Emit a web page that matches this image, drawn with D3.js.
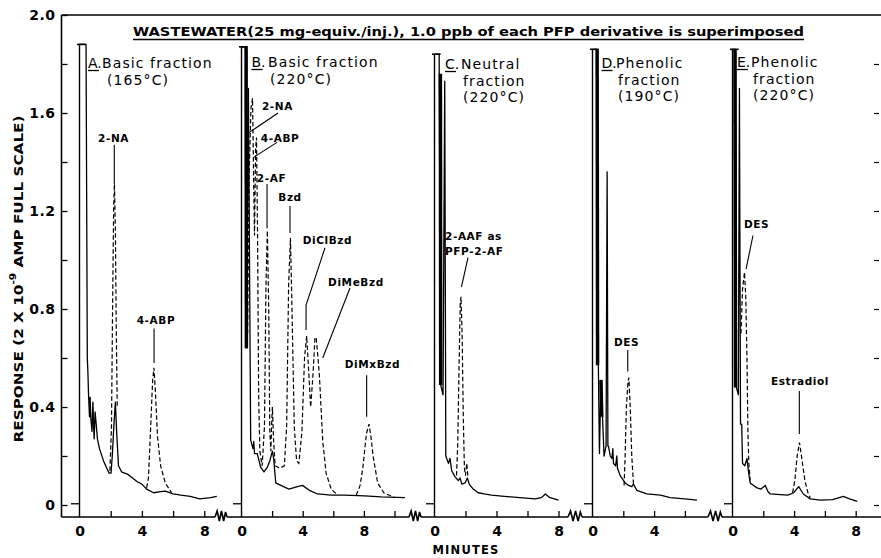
<!DOCTYPE html>
<html>
<head>
<meta charset="utf-8">
<script src="https://cdn.jsdelivr.net/npm/d3@7"></script>
<style>
  body { margin: 0; background: #fff; }
  svg { display: block; }
  text { font-family: "DejaVu Sans", sans-serif; fill: #000; }
</style>
</head>
<body>
<svg id="chart" width="881" height="558"></svg>
<script>
/* ---- data (response in 2e-9 A full scale units, time in minutes) ---- */
const yMajor = [0, 0.4, 0.8, 1.2, 1.6, 2.0];
const yAllTicks = [0, 0.2, 0.4, 0.6, 0.8, 1.0, 1.2, 1.4, 1.6, 1.8, 2.0];
const yRightTicks = [0, 0.2, 0.4, 0.6, 0.8, 1.0, 1.2, 1.4, 1.6, 1.8];

const panelLetters = ["A.", "B.", "C.", "D.", "E."];
const panelNames = [["Basic fraction"], ["Basic fraction"], ["Neutral", "fraction"], ["Phenolic", "fraction"], ["Phenolic", "fraction"]];
const panelTemps = ["(165°C)", "(220°C)", "(220°C)", "(190°C)", "(220°C)"];
const xTickMinutes = [[2, 4, 6, 8], [2, 4, 6, 8, 10], [2, 4, 6, 8], [2, 4, 6], [2, 4, 6, 8]];
const xTickLabels = [[0, 4, 8], [0, 4, 8], [0, 4, 8], [0, 4], [0, 4, 8]];
const solventTop = [1.88, 1.87, 1.84, 1.86, 1.86];

// wastewater extract (solid traces)
const sampleA = [[0,1.88],[0.42,1.88],[0.5,0.6],[0.54,0.54],[0.58,0.45],[0.64,0.36],[0.68,0.44],[0.73,0.35],[0.8,0.3],[0.86,0.42],[0.9,0.33],[0.94,0.27],[1.0,0.38],[1.07,0.33],[1.15,0.27],[1.28,0.23],[1.54,0.18],[1.75,0.15],[1.9,0.13],[2.02,0.13],[2.1,0.2],[2.2,0.32],[2.3,0.42],[2.38,0.3],[2.5,0.16],[2.7,0.135],[3.1,0.125],[3.4,0.11],[3.7,0.095],[4.0,0.085],[4.3,0.065],[4.75,0.05],[5.2,0.055],[5.5,0.057],[6.0,0.045],[6.5,0.04],[7.1,0.035],[7.7,0.025],[8.4,0.03],[8.8,0.035]];
const sampleB = [[0,1.87],[0.3,1.87],[0.33,0.64],[0.45,1.7],[0.6,0.265],[0.75,0.23],[0.8,0.26],[0.85,0.21],[1.03,0.21],[1.25,0.155],[1.47,0.135],[1.69,0.155],[1.85,0.18],[2.02,0.22],[2.1,0.19],[2.17,0.14],[2.24,0.09],[2.57,0.08],[3.1,0.065],[3.66,0.075],[3.99,0.08],[4.43,0.06],[4.98,0.045],[5.86,0.04],[6.73,0.04],[8.05,0.037],[9.14,0.033],[10.68,0.03]];
const sampleC = [[0,1.84],[0.3,1.84],[0.4,0.49],[0.55,0.45],[0.66,1.73],[0.73,0.2],[0.9,0.17],[1.0,0.19],[1.11,0.14],[1.33,0.115],[1.54,0.1],[1.65,0.11],[1.76,0.085],[1.97,0.09],[2.12,0.11],[2.24,0.085],[2.5,0.065],[2.82,0.05],[3.2,0.045],[3.68,0.04],[4.5,0.035],[5.5,0.03],[6.5,0.025],[6.9,0.03],[7.15,0.045],[7.45,0.03],[8.0,0.02]];
const sampleD = [[0,1.86],[0.3,1.86],[0.38,0.57],[0.45,0.21],[0.55,0.51],[0.65,0.36],[0.75,0.2],[0.88,0.24],[0.95,1.36],[1.0,0.24],[1.04,0.24],[1.15,0.2],[1.26,0.19],[1.32,0.23],[1.36,0.17],[1.5,0.16],[1.58,0.2],[1.62,0.15],[1.8,0.12],[2.12,0.09],[2.34,0.08],[2.55,0.075],[2.66,0.085],[2.88,0.06],[3.53,0.045],[4.4,0.04],[5.05,0.03],[6.0,0.025],[6.78,0.02]];
const sampleE = [[0,1.86],[0.2,1.86],[0.25,0.48],[0.38,0.45],[0.45,1.7],[0.52,0.33],[0.6,0.33],[0.65,0.17],[0.8,0.16],[0.94,0.19],[1.05,0.13],[1.15,0.09],[1.59,0.07],[1.85,0.065],[2.13,0.08],[2.3,0.055],[2.45,0.045],[3.1,0.042],[3.6,0.04],[3.97,0.05],[4.3,0.075],[4.6,0.045],[5.05,0.025],[5.7,0.02],[6.5,0.022],[7.2,0.035],[7.6,0.025],[8.1,0.015]];

// off-scale pen segments drawn heavy
const overloadB = [[[0.3,1.87],[0.32,0.64]]];
const overloadC = [[[0.38,1.76],[0.4,0.49]]];
const overloadD = [[[0.3,1.86],[0.33,0.57]], [[0.55,0.51],[0.6,0.36]]];
const overloadE = [[[0.16,1.86],[0.2,0.48]]];

// 1.0 ppb PFP derivative standards (dashed traces)
const standardA = [
  [[1.95,0.14],[2.05,0.32],[2.12,0.8],[2.19,1.22],[2.24,1.31],[2.3,1.12],[2.36,0.7],[2.42,0.4]],
  [[4.3,0.07],[4.42,0.11],[4.55,0.3],[4.68,0.5],[4.77,0.56],[4.86,0.47],[5.0,0.28],[5.2,0.16],[5.5,0.09],[5.9,0.05]]
];
const standardB = [
  [[0.4,0.7],[0.5,1.35],[0.62,1.62],[0.72,1.66],[0.8,1.3],[0.85,1.1],[0.92,1.45],[0.98,1.5],[1.05,1.1],[1.12,0.45],[1.2,0.22],[1.35,0.16],[1.5,0.32],[1.6,0.9],[1.69,1.12],[1.78,0.8],[1.85,0.3],[1.92,0.22],[1.97,0.33],[2.02,0.4],[2.1,0.26],[2.2,0.16],[2.5,0.15],[2.8,0.16],[2.95,0.32],[3.08,0.9],[3.2,1.09],[3.3,0.8],[3.45,0.32],[3.6,0.18],[3.75,0.17],[3.95,0.3],[4.12,0.6],[4.26,0.69],[4.38,0.56],[4.52,0.4],[4.66,0.52],[4.8,0.68],[4.88,0.685],[5.0,0.6],[5.1,0.52],[5.31,0.26],[5.53,0.13],[5.86,0.065],[6.3,0.04]],
  [[7.5,0.04],[7.75,0.08],[7.94,0.155],[8.16,0.29],[8.33,0.33],[8.46,0.28],[8.6,0.2],[8.9,0.09],[9.3,0.05],[10.0,0.03]]
];
const standardC = [
  [[1.42,0.12],[1.5,0.25],[1.58,0.55],[1.66,0.82],[1.71,0.85],[1.78,0.7],[1.86,0.35],[1.93,0.15],[2.0,0.12],[2.08,0.17],[2.15,0.12]]
];
const standardD = [
  [[2.05,0.08],[2.12,0.2],[2.2,0.4],[2.3,0.5],[2.36,0.52],[2.45,0.4],[2.55,0.2],[2.66,0.085]]
];
const standardE = [
  [[0.55,0.7],[0.65,0.88],[0.78,0.95],[0.86,0.85],[0.94,0.6],[1.0,0.3],[1.06,0.17],[1.15,0.1]],
  [[3.9,0.05],[4.05,0.1],[4.2,0.2],[4.35,0.255],[4.5,0.19],[4.7,0.1],[4.9,0.05],[5.05,0.03]]
];

// peak labels: panel, text lines, label centre (min, response), pointer polyline
const peakLabels = [
  { panel: 0, lines: ["2-NA"], at: [2.18, 1.50], ptr: [[2.23, 1.47], [2.23, 1.31]] },
  { panel: 0, lines: ["4-ABP"], at: [4.9, 0.755], ptr: [[4.78, 0.72], [4.78, 0.58]] },
  { panel: 1, lines: ["2-NA"], at: [2.35, 1.63], ptr: [[2.39, 1.60], [0.49, 1.52]] },
  { panel: 1, lines: ["4-ABP"], at: [2.52, 1.50], ptr: [[2.32, 1.48], [0.82, 1.42]] },
  { panel: 1, lines: ["2-AF"], at: [1.96, 1.335], ptr: [[1.67, 1.31], [1.67, 1.13]] },
  { panel: 1, lines: ["Bzd"], at: [3.17, 1.257], ptr: [[3.17, 1.22], [3.17, 1.11]] },
  { panel: 1, lines: ["DiClBzd"], at: [5.62, 1.08], ptr: [[5.46, 1.05], [4.22, 0.816], [4.22, 0.714]] },
  { panel: 1, lines: ["DiMeBzd"], at: [7.48, 0.91], ptr: [[7.09, 0.886], [5.31, 0.6]] },
  { panel: 1, lines: ["DiMxBzd"], at: [8.56, 0.575], ptr: [[8.18, 0.53], [8.18, 0.36]] },
  { panel: 2, lines: ["2-AAF as", "PFP-2-AF"], at: [2.0, 1.10], ptr: [[2.16, 1.01], [1.74, 0.89]] },
  { panel: 3, lines: ["DES"], at: [2.21, 0.665], ptr: [[2.29, 0.633], [2.29, 0.545]] },
  { panel: 4, lines: ["DES"], at: [1.56, 1.147], ptr: [[1.33, 1.10], [0.88, 0.963]] },
  { panel: 4, lines: ["Estradiol"], at: [4.38, 0.506], ptr: [[4.34, 0.465], [4.34, 0.29]] }
];

const samples = [sampleA, sampleB, sampleC, sampleD, sampleE];
const standards = [standardA, standardB, standardC, standardD, standardE];
const overloads = [[], overloadB, overloadC, overloadD, overloadE];

/* ---- layout ---- */
const plotTop = 15, axisY = 517, frameLeft = 61.5, frameRight = 881;
const panelX0 = [79.5, 241.5, 434.5, 592.5, 732.5];
const pxPerMin = [15.6, 15.3, 15.5, 15.4, 15.4];
const breaks = [[215, 227], [409, 421], [568, 582], [708, 722]];
const headerLetterX = [88, 251.5, 445, 601.5, 737];
const headerTextX = [102, 268, 461, 616, 751];
const headerY = [63, 62, 64, 63, 62];

const svg = d3.select("#chart");
const y = d3.scaleLinear().domain([0, 2]).range([505, plotTop]);
const xs = panelX0.map((x0, i) => d3.scaleLinear().domain([0, 10]).range([x0, x0 + 10 * pxPerMin[i]]));

// frame
svg.append("line").attr("x1", frameLeft).attr("x2", frameLeft).attr("y1", plotTop).attr("y2", axisY)
  .attr("stroke", "#000").attr("stroke-width", 1.6);
svg.append("line").attr("x1", frameLeft).attr("x2", frameRight).attr("y1", plotTop).attr("y2", plotTop)
  .attr("stroke", "#000").attr("stroke-width", 1.6);

// bottom axis with scale breaks
let segStart = frameLeft;
const bottom = svg.append("g");
breaks.forEach(b => {
  bottom.append("line").attr("x1", segStart).attr("x2", b[0]).attr("y1", axisY).attr("y2", axisY)
    .attr("stroke", "#000").attr("stroke-width", 1.6);
  const w = b[1] - b[0];
  const zz = [[b[0], axisY], [b[0] + w * 0.18, axisY - 6], [b[0] + w * 0.36, axisY + 4], [b[0] + w * 0.54, axisY - 6],
    [b[0] + w * 0.72, axisY + 4], [b[0] + w * 0.88, axisY - 5], [b[1], axisY]];
  bottom.append("path").attr("d", d3.line()(zz)).attr("fill", "none").attr("stroke", "#000").attr("stroke-width", 1.6);
  segStart = b[1];
});
bottom.append("line").attr("x1", segStart).attr("x2", frameRight).attr("y1", axisY).attr("y2", axisY)
  .attr("stroke", "#000").attr("stroke-width", 1.6);

// y axis ticks and labels
const yTickG = svg.append("g").attr("transform", `translate(${frameLeft},0)`)
  .call(d3.axisRight(y).tickValues(yAllTicks).tickSize(6).tickFormat(""));
yTickG.select(".domain").remove();
yTickG.selectAll("line").attr("stroke-width", 1.3);

const yLabG = svg.append("g").attr("transform", `translate(${frameLeft},0)`)
  .call(d3.axisLeft(y).tickValues(yMajor).tickSize(0).tickPadding(6)
    .tickFormat(d => d === 0 ? "0" : d3.format(".1f")(d)));
yLabG.select(".domain").remove();
yLabG.selectAll("text").attr("font-family", "DejaVu Sans, sans-serif").attr("font-size", 14)
  .attr("font-weight", "bold").attr("letter-spacing", 0.5).attr("fill", "#000");

const yRightG = svg.append("g").attr("transform", "translate(879,0)")
  .call(d3.axisLeft(y).tickValues(yRightTicks).tickSize(5).tickFormat(""));
yRightG.select(".domain").remove();
yRightG.selectAll("line").attr("stroke-width", 1.2);

// y axis title
const yTitle = svg.append("text")
  .attr("transform", "translate(18,279) rotate(-90)")
  .attr("text-anchor", "middle").attr("dominant-baseline", "central")
  .attr("font-size", 13).attr("font-weight", "bold")
  .attr("textLength", 327).attr("lengthAdjust", "spacingAndGlyphs");
yTitle.append("tspan").text("RESPONSE (2 X 10");
yTitle.append("tspan").attr("dy", -5).attr("font-size", 9).text("-9");
yTitle.append("tspan").attr("dy", 5).text(" AMP FULL SCALE)");

// main title
svg.append("text").attr("x", 133).attr("y", 31).attr("dominant-baseline", "central")
  .attr("font-size", 13).attr("font-weight", "bold")
  .attr("textLength", 671).attr("lengthAdjust", "spacingAndGlyphs")
  .text("WASTEWATER(25 mg-equiv./inj.), 1.0 ppb of each PFP derivative is superimposed");
svg.append("line").attr("x1", 133).attr("x2", 804).attr("y1", 39.5).attr("y2", 39.5)
  .attr("stroke", "#000").attr("stroke-width", 1.6);

// x axis title
svg.append("text").attr("x", 466).attr("y", 550).attr("text-anchor", "middle").attr("dominant-baseline", "central")
  .attr("font-size", 11.5).attr("font-weight", "bold").attr("letter-spacing", 1.2).text("MINUTES");

panelX0.forEach((x0, i) => {
  const x = xs[i];
  const line = d3.line().x(d => x(d[0])).y(d => y(d[1]));
  const g = svg.append("g");

  // panel time axis (injection line)
  g.append("line").attr("x1", x0).attr("x2", x0).attr("y1", axisY).attr("y2", y(solventTop[i]))
    .attr("stroke", "#000").attr("stroke-width", 1.4);
  g.append("line").attr("x1", x0 - 2.5).attr("x2", x(0.3) + 1.5).attr("y1", y(solventTop[i])).attr("y2", y(solventTop[i]))
    .attr("stroke", "#000").attr("stroke-width", 1.6);
  // pre-injection pen baseline
  g.append("line").attr("x1", x0 - 8.5).attr("x2", x0).attr("y1", y(0.005)).attr("y2", y(0.005))
    .attr("stroke", "#000").attr("stroke-width", 1.3);

  const tickG = g.append("g").attr("transform", `translate(0,${axisY})`)
    .call(d3.axisTop(x).tickValues(xTickMinutes[i]).tickSize(6).tickFormat(""));
  tickG.select(".domain").remove();
  tickG.selectAll("line").attr("stroke-width", 1.3);

  const labG = g.append("g").attr("transform", `translate(0,${axisY})`)
    .call(d3.axisBottom(x).tickValues(xTickLabels[i]).tickSize(0).tickPadding(9).tickFormat(d3.format("d")));
  labG.select(".domain").remove();
  labG.selectAll("text").attr("font-family", "DejaVu Sans, sans-serif").attr("font-size", 14)
    .attr("font-weight", "bold").attr("fill", "#000");

  // sample trace
  g.append("path").attr("d", line(samples[i])).attr("fill", "none")
    .attr("stroke", "#000").attr("stroke-width", 1.3).attr("stroke-linejoin", "round");
  overloads[i].forEach(seg => {
    g.append("path").attr("d", line(seg)).attr("fill", "none").attr("stroke", "#000").attr("stroke-width", 3.5);
  });
  // standards (dashed)
  standards[i].forEach(s => {
    g.append("path").attr("d", line(s)).attr("fill", "none")
      .attr("stroke", "#000").attr("stroke-width", 1.2).attr("stroke-dasharray", "4.5,2.5");
  });

  // header
  const hy = headerY[i];
  g.append("text").attr("x", headerLetterX[i]).attr("y", hy).attr("dominant-baseline", "central")
    .attr("font-size", 14).text(panelLetters[i]);
  g.append("line").attr("x1", headerLetterX[i]).attr("x2", headerLetterX[i] + 11)
    .attr("y1", hy + 7.5).attr("y2", hy + 7.5).attr("stroke", "#000").attr("stroke-width", 1.3);
  const rows = panelNames[i].concat([panelTemps[i]]);
  rows.forEach((r, k) => {
    g.append("text").attr("x", headerTextX[i] + (k === 0 ? 0 : (i === 0 ? 5 : 2)))
      .attr("y", hy + k * 16.5).attr("dominant-baseline", "central")
      .attr("font-size", 14).attr("letter-spacing", 1.1).text(r);
  });
});

// peak labels
peakLabels.forEach(p => {
  const x = xs[p.panel];
  const multi = p.lines.length > 1;
  p.lines.forEach((t, k) => {
    svg.append("text")
      .attr("x", multi ? x(0.68) : x(p.at[0]))
      .attr("y", y(p.at[1]) + k * 15)
      .attr("text-anchor", multi ? "start" : "middle").attr("dominant-baseline", "central")
      .attr("font-size", 10.5).attr("font-weight", "bold").attr("letter-spacing", 0.6).text(t);
  });
  svg.append("path").attr("d", d3.line().x(d => x(d[0])).y(d => y(d[1]))(p.ptr))
    .attr("fill", "none").attr("stroke", "#000").attr("stroke-width", 1.1);
});
</script>
</body>
</html>
